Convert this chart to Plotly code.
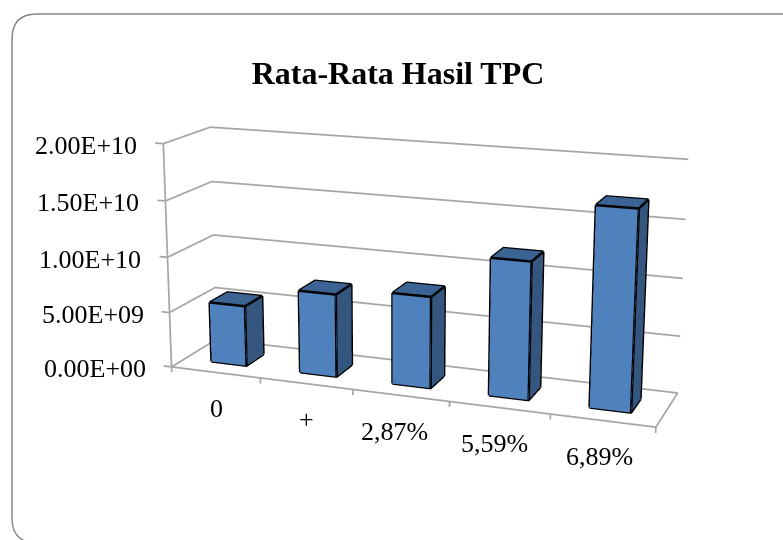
import plotly.graph_objects as go

categories = ["0", "+", "2,87%", "5,59%", "6,89%"]
values = [5.48e9, 7.4e9, 8.05e9, 1.19e10, 1.7e10]
z_ticks = [0, 5e9, 1e10, 1.5e10, 2e10]
z_labels = ["0.00E+00", "5.00E+09", "1.00E+10", "1.50E+10", "2.00E+10"]
Z_MAX = 2e10

# Depth / lean of the pseudo-3D frame (Excel-style skew of the box)
SHEAR_XY, SHEAR_YZ, SHEAR_XZ = 0.29476, 2.05626, -0.19155
X_RANGE = [-0.1 + SHEAR_XZ, 5 + SHEAR_XY + 0.05]
Y_RANGE = [-0.05, 1 + SHEAR_YZ + 0.05]
Z_RANGE = [-1e9, 2.1e10]
LABEL_SHIFT = [1, 0, -6, -5, -3]


def skew(x, y, z):
    return (x + SHEAR_XY * y + SHEAR_XZ * z / Z_MAX, y + SHEAR_YZ * z / Z_MAX, z)


FRONT, SIDE, TOP = "#4F81BD", "#34567F", "#3B6494"
fig = go.Figure()
X, Y, Z, I, J, K, FC = [], [], [], [], [], [], []
for i, v in enumerate(values):
    x0, x1, y0, y1 = i + .3, i + .7, .3, .7
    b = len(X)
    for P in [(x0, y0, 0), (x1, y0, 0), (x1, y1, 0), (x0, y1, 0), (x0, y0, v), (x1, y0, v), (x1, y1, v), (x0, y1, v)]:
        Q = skew(*P)
        X.append(Q[0]); Y.append(Q[1]); Z.append(Q[2])
    for tri, col in [((0, 1, 5), FRONT), ((0, 5, 4), FRONT), ((1, 2, 6), SIDE), ((1, 6, 5), SIDE), ((4, 5, 6), TOP), ((4, 6, 7), TOP)]:
        I.append(b + tri[0]); J.append(b + tri[1]); K.append(b + tri[2]); FC.append(col)
    lx, ly, lz = [], [], []
    for e in [(4, 5, 6, 7, 4), (0, 1, 2), (0, 4), (1, 5), (2, 6)]:
        for t in e:
            lx.append(X[b + t]); ly.append(Y[b + t]); lz.append(Z[b + t])
        lx.append(None); ly.append(None); lz.append(None)
    fig.add_trace(go.Scatter3d(x=lx, y=ly, z=lz, mode="lines", line=dict(color="black", width=5), hoverinfo="skip", showlegend=False))
fig.add_trace(go.Mesh3d(x=X, y=Y, z=Z, i=I, j=J, k=K, facecolor=FC, flatshading=True,
                        lighting=dict(ambient=1, diffuse=0, specular=0, fresnel=0, roughness=1), hoverinfo="skip", showlegend=False))

segs = [[(-0.09, 0, t), (0, 0, t), (0, 1, t), (5, 1, t)] for t in z_ticks]
segs += [[(0, 0, 0), (0, 0, Z_MAX)], [(0, 0, 0), (0, 1, 0), (5, 1, 0), (5, 0, 0), (0, 0, 0)]]
segs += [[(i, 0, 0), (i, 0, -8e8)] for i in range(6)]
gx, gy, gz = [], [], []
for s in segs:
    for P in s:
        Q = skew(*P)
        gx.append(Q[0]); gy.append(Q[1]); gz.append(Q[2])
    gx.append(None); gy.append(None); gz.append(None)
fig.add_trace(go.Scatter3d(x=gx, y=gy, z=gz, mode="lines", line=dict(color="#A6A6A6", width=3.5), hoverinfo="skip", showlegend=False))

font = dict(family="Liberation Serif", size=26, color="black")
ann = []
for t, l in zip(z_ticks, z_labels):
    Q = skew(0, 0, t)
    ann.append(dict(x=Q[0], y=Q[1], z=Q[2], text=l, showarrow=False, xanchor="right", xshift=-24, yshift=-2, font=font))
for i, c in enumerate(categories):
    Q = skew(i + .5, 0, 0)
    ann.append(dict(x=Q[0], y=Q[1], z=Q[2], text=c, showarrow=False, xshift=LABEL_SHIFT[i], yshift=-36, font=font))

W_, H_ = 783, 540
border = (f"M {37/W_} {1-14/H_} L {800/W_} {1-14/H_} M {12/W_} {1-39/H_} Q {12/W_} {1-14/H_} {37/W_} {1-14/H_} "
          f"M {12/W_} {1-39/H_} L {12/W_} {1-518/H_} Q {12/W_} {1-543/H_} {37/W_} {1-543/H_}")
fig.update_layout(
    width=W_, height=H_, margin=dict(l=0, r=0, t=0, b=0), paper_bgcolor="white", showlegend=False,
    title=dict(text="<b>Rata-Rata Hasil TPC</b>", x=398 / W_, y=1 - 73 / H_, xanchor="center", yanchor="middle",
               font=dict(family="Liberation Serif", size=32, color="black")),
    shapes=[dict(type="path", xref="paper", yref="paper", path=border, line=dict(color="#868686", width=1.5))],
    scene=dict(
        domain=dict(x=[0, 1], y=[0, 1]),
        xaxis=dict(range=X_RANGE, visible=False), yaxis=dict(range=Y_RANGE, visible=False), zaxis=dict(range=Z_RANGE, visible=False),
        aspectmode="manual", aspectratio=dict(x=1, y=0.29363, z=0.41009),
        camera=dict(eye=dict(x=0.12726, y=-0.99251, z=0.65506), center=dict(x=-0.21338, y=0.95377, z=-0.65144),
                    up=dict(x=0.00278, y=0, z=1), projection=dict(type="perspective")),
        annotations=ann),
)
fig.write_html("out.html", config=dict(displayModeBar=False),
               post_script="document.body.style.margin='0';document.documentElement.style.overflow='hidden';")
